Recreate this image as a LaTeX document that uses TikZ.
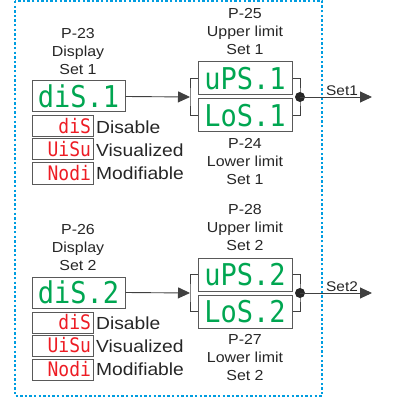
\documentclass[tikz,border=0pt]{standalone}
\usepackage{fontspec}
\setmainfont[FakeStretch=1.1]{Liberation Sans}
\newfontfamily\segfont[FakeStretch=0.9]{DejaVu Sans Mono}
\usetikzlibrary{arrows.meta}
\definecolor{ledgreen}{RGB}{0,166,81}
\definecolor{ledred}{RGB}{237,28,36}
\definecolor{frameblue}{RGB}{0,157,224}

\tikzset{
  lcd/.style={draw=black!65, line width=1pt, minimum width=93pt, minimum height=31pt,
    inner sep=0pt, text=ledgreen, font=\segfont\fontsize{30}{30}\selectfont},
  lcdsmall/.style={draw=black!65, line width=1pt, text width=57pt, inner xsep=2pt,
    inner ysep=0pt, minimum height=21pt, align=right, text=ledred,
    font=\segfont\fontsize{20}{20}\selectfont},
  caption/.style={align=center, font=\fontsize{14.5}{18}\selectfont, text=black!85},
  choice/.style={anchor=west, inner sep=0pt, font=\fontsize{17.5}{20}\selectfont, text=black!85},
  wire/.style={draw=black!75, line width=0.9pt},
}

\begin{document}
\begin{tikzpicture}[x=1pt,y=-1pt]
  \tikzset{>={Triangle[length=12pt,width=11pt]}}
  \useasboundingbox (0,0) rectangle (398,403);

  % frame
  \draw[frameblue, line width=2.4pt, dash pattern=on 2.4pt off 2.2pt] (15,1) rectangle (322,396);

  \foreach \s/\dy/\pd/\pu/\pl in {1/0/23/25/24, 2/196/26/28/27}{
    \begin{scope}[yshift=-\dy pt]
      % display parameter
      \node[caption] (cap\s) at (78,52) {P-\pd\\Display\\Set \s};
      \node[lcd] (disp\s) at (78.5,96.5) {diS.\s};
      \node[lcdsmall] (dis\s) at (62.5,126.5) {diS};
      \node[lcdsmall] (vis\s) at (62.5,149.5) {UiSu};
      \node[lcdsmall] (mod\s) at (62.5,173.5) {Nodi};
      \node[choice] (tdis\s) at (96,127) {Disable};
      \node[choice] (tvis\s) at (96,150) {Visualized};
      \node[choice] (tmod\s) at (96,173) {Modifiable};

      % limits
      \node[caption] (capu\s) at (245,32) {P-\pu\\Upper limit\\Set \s};
      \node[lcd, minimum width=94pt, minimum height=33pt] (up\s) at (245,78.5) {uPS.\s};
      \node[lcd, minimum width=94pt, minimum height=33pt] (lo\s) at (245,115.5) {LoS.\s};
      \node[caption] (capl\s) at (245,162) {P-\pl\\Lower limit\\Set \s};

      \coordinate (in\s) at (190,97);
      \coordinate (j\s) at (300,97);
      \coordinate (out\s) at (372,97);

      \draw[wire,->] (disp\s.east) -- (in\s);
      \draw[wire] (up\s.west) -| (in\s) |- (lo\s.west);
      \draw[wire] (up\s.east) -| (j\s) |- (lo\s.east);
      \fill[black!85] (j\s) circle (5pt);
      \draw[wire,->] (j\s) -- (out\s);
      \node[anchor=south, inner sep=1pt, font=\fontsize{14}{16}\selectfont, text=black!85] (set\s) at (342,97) {Set\s};
    \end{scope}
  }
\end{tikzpicture}
\end{document}
